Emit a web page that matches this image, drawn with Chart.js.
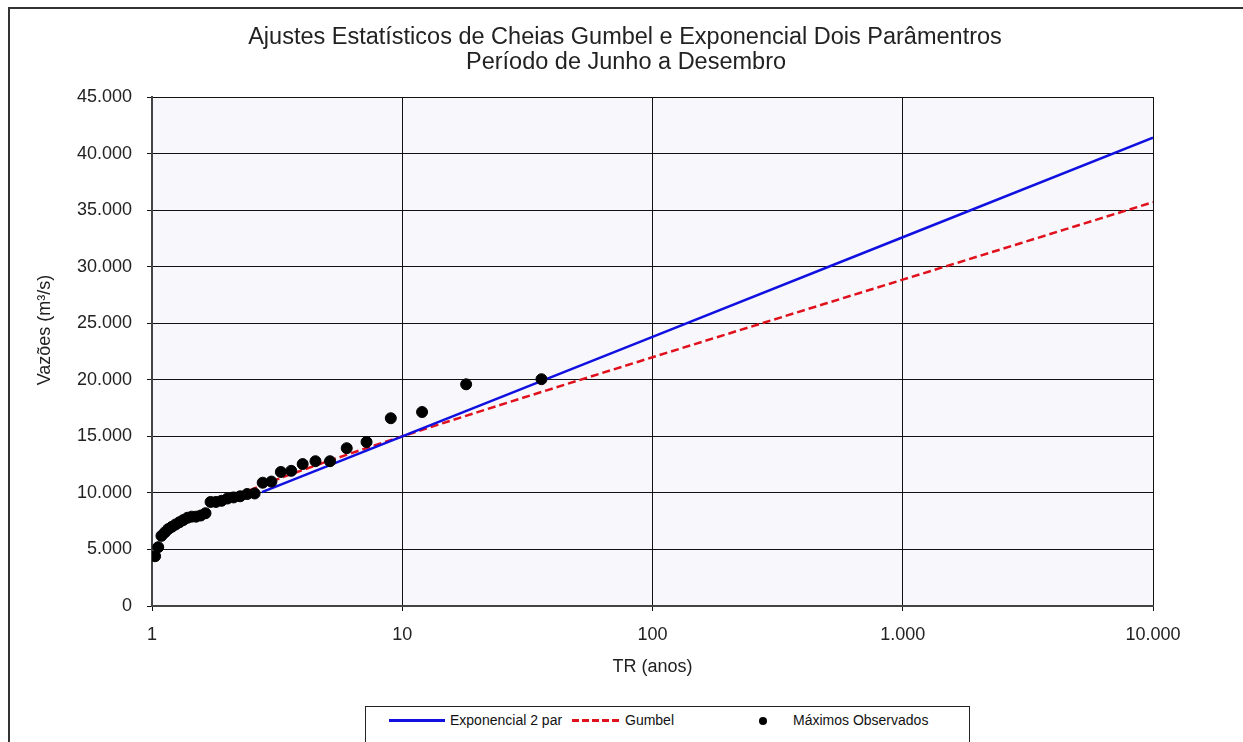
<!DOCTYPE html>
<html>
<head>
<meta charset="utf-8">
<script src="https://cdn.jsdelivr.net/npm/chart.js@4.4.1/dist/chart.umd.min.js"></script>
<style>
body { margin: 0; background: #fff; overflow: hidden; }
#moldura { position: absolute; left: 8px; top: 7px; width: 1235px; height: 735px; border-left: 2px solid #333; border-top: 2px solid #333; box-sizing: border-box; }
#grafico { position: absolute; left: 0; top: 0; }
#legenda { position: absolute; left: 365px; top: 706px; width: 605px; height: 42px; border: 1px solid #222; box-sizing: border-box; background: #fff; font: 14px "Liberation Sans", Arial, sans-serif; color: #111; }
#legenda span { position: absolute; }
.txt { top: 5px; white-space: nowrap; }
</style>
</head>
<body>
<div id="moldura"></div>
<canvas id="grafico" width="1243" height="742"></canvas>
<div id="legenda">
  <span style="left:23px;top:12px;width:56px;height:3px;background:#1010e0"></span>
  <span class="txt" style="left:84px">Exponencial 2 par</span>
  <span style="left:206px;top:12px;width:50px;height:3px;background:repeating-linear-gradient(90deg,#e0101c 0 7px,transparent 7px 10px)"></span>
  <span class="txt" style="left:259px">Gumbel</span>
  <span style="left:393px;top:10px;width:8px;height:8px;border-radius:50%;background:#000"></span>
  <span class="txt" style="left:427px">Máximos Observados</span>
</div>
<script>
// Máximos observados (TR de Weibull e vazões)
const trObs = [1.029, 1.059, 1.091, 1.125, 1.161, 1.2, 1.241, 1.286, 1.333, 1.385, 1.44, 1.5, 1.565, 1.636, 1.714, 1.8, 1.895, 2.0, 2.118, 2.25, 2.4, 2.571, 2.769, 3.0, 3.273, 3.6, 4.0, 4.5, 5.143, 6.0, 7.2, 9.0, 12.0, 18.0, 36.0];
const qObs = [4400, 5200, 6200, 6500, 6800, 7000, 7200, 7400, 7600, 7800, 7900, 7900, 8000, 8200, 9200, 9200, 9300, 9500, 9600, 9700, 9900, 9950, 10900, 11000, 11850, 11950, 12550, 12800, 12800, 13950, 14500, 16600, 17150, 19600, 20050];

// Exponencial 2 parametros
const trExp = [2.75, 10, 100, 1000, 10000];
const qExp = [10060, 15000, 23800, 32600, 41400];

// Gumbel
const trGum = [2, 3, 5, 10, 20, 50, 100, 200, 500, 1000, 2000, 5000, 10000];
const qGum = [9400, 11000, 12770, 15000, 17140, 19910, 21990, 24060, 26790, 28850, 30910, 33640, 35700];

const xTicks = [1, 10, 100, 1000, 10000];
const titulo = ['Ajustes Estatísticos de Cheias Gumbel e Exponencial Dois Parâmentros', 'Período de Junho a Desembro'];
const tituloY = 'Vazões (m³/s)';

const pontos = (xs, ys) => xs.map((x, i) => ({x: x, y: ys[i]}));
const milhar = v => String(v).replace(/\B(?=(\d{3})+(?!\d))/g, '.');
const fonte = 'Liberation Sans, Arial, sans-serif';

// fundo da area de plotagem + titulos na posicao do original
const fundo = {
  id: 'fundo',
  beforeDraw(chart) {
    const a = chart.chartArea, ctx = chart.ctx;
    ctx.save();
    ctx.fillStyle = '#f7f7fc';
    ctx.fillRect(a.left, a.top, a.right - a.left, a.bottom - a.top);
    ctx.restore();
  },
  afterDraw(chart) {
    const ctx = chart.ctx;
    ctx.save();
    ctx.fillStyle = '#222';
    ctx.textAlign = 'center';
    ctx.textBaseline = 'middle';
    ctx.font = '23.5px ' + fonte;
    ctx.fillText(titulo[0], 625, 38);
    ctx.fillText(titulo[1], 626, 63);
    ctx.font = '18px ' + fonte;
    ctx.translate(45, 330);
    ctx.rotate(-Math.PI / 2);
    ctx.fillText(tituloY, 0, 0);
    ctx.restore();
  }
};

const config = {
  type: 'scatter',
  data: {
    datasets: [
      {
        label: 'Máximos Observados',
        data: pontos(trObs, qObs),
        backgroundColor: '#000',
        borderColor: '#000',
        pointRadius: 5.5,
        order: 0
      },
      {
        label: 'Exponencial 2 par',
        type: 'line',
        data: pontos(trExp, qExp),
        borderColor: '#1010e0',
        borderWidth: 2.5,
        pointRadius: 0,
        fill: false,
        order: 1
      },
      {
        label: 'Gumbel',
        type: 'line',
        data: pontos(trGum, qGum),
        borderColor: '#e0101c',
        borderWidth: 2.5,
        borderDash: [8, 4],
        pointRadius: 0,
        cubicInterpolationMode: 'monotone',
        fill: false,
        order: 2
      }
    ]
  },
  options: {
    responsive: false,
    animation: false,
    layout: { padding: { left: 34, right: 90, top: 97, bottom: 64 } },
    plugins: {
      legend: { display: false },
      tooltip: { enabled: false },
      title: { display: false }
    },
    scales: {
      x: {
        type: 'logarithmic',
        min: 1,
        max: 10000,
        afterBuildTicks: s => { s.ticks = xTicks.map(v => ({value: v})); },
        afterFit: s => { s.height = 72; },
        ticks: { callback: v => milhar(v), color: '#222', font: { family: fonte, size: 18 }, padding: 13, maxRotation: 0 },
        grid: { color: '#111', lineWidth: 1, tickLength: 5 },
        border: { color: '#444', width: 2 },
        title: { display: true, text: 'TR (anos)', color: '#222', font: { family: fonte, size: 18 }, padding: 0 }
      },
      y: {
        min: 0,
        max: 45000,
        afterFit: s => { s.width = 118; },
        ticks: { stepSize: 5000, callback: v => milhar(v), color: '#222', font: { family: fonte, size: 18 }, padding: 15 },
        grid: { color: '#111', lineWidth: 1, tickLength: 5 },
        border: { color: '#444', width: 2 }
      }
    }
  },
  plugins: [fundo]
};

let grafico = new Chart(document.getElementById('grafico'), config);
</script>
</body>
</html>
